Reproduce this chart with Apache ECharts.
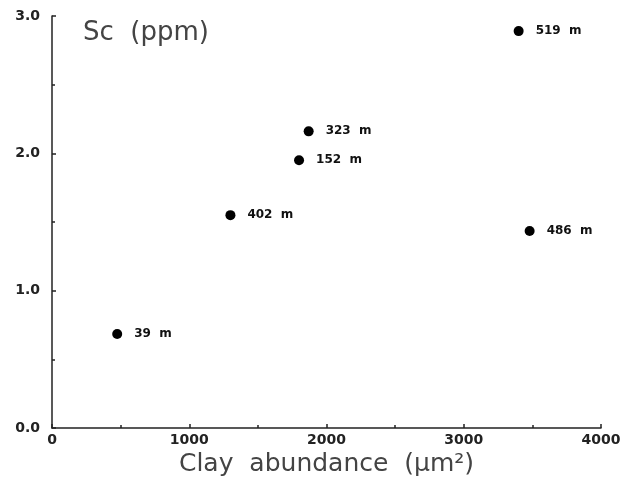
<!DOCTYPE html>
<html>
<head>
<meta charset="utf-8">
<script src="https://cdn.jsdelivr.net/npm/echarts@6/dist/echarts.min.js"></script>
<style>
  html, body { margin: 0; padding: 0; background: #fff; }
  #chart { width: 633px; height: 484px; }
</style>
</head>
<body>
<div id="chart"></div>
<script>
// sample depths and measured values
const depths = ["39", "402", "152", "323", "519", "486"];
const clay = [475, 1300, 1800, 1870, 3400, 3480];
const sc = [0.685, 1.55, 1.95, 2.16, 2.89, 1.435];

const chart = echarts.init(document.getElementById("chart"));

const points = depths.map(function (d, i) {
  return { value: [clay[i], sc[i]], name: d + "  m" };
});

const axisColor = "#222";

chart.setOption({
  animation: false,
  grid: {
    left: 52,
    right: 32,
    top: 16,
    bottom: 56
  },
  title: {
    text: "Sc  (ppm)",
    left: 78,
    top: 15,
    textStyle: {
      fontFamily: "DejaVu Sans",
      fontWeight: "normal",
      fontSize: 26,
      color: "#444"
    }
  },
  xAxis: {
    type: "value",
    min: 0,
    max: 4000,
    interval: 1000,
    name: "Clay  abundance  (μm²)",
    nameLocation: "middle",
    nameGap: 23,
    nameTextStyle: {
      fontFamily: "DejaVu Sans",
      fontSize: 25,
      color: "#444"
    },
    splitLine: { show: false },
    axisLine: { lineStyle: { color: axisColor, width: 1.5 } },
    axisTick: { inside: true, length: 4, lineStyle: { color: axisColor, width: 1.5 } },
    minorTick: { show: true, splitNumber: 2, length: 3, lineStyle: { color: axisColor, width: 1.5 } },
    axisLabel: {
      margin: 5,
      fontFamily: "DejaVu Sans",
      fontWeight: "bold",
      fontSize: 14,
      color: axisColor,
      formatter: function (v) { return String(v); }
    }
  },
  yAxis: {
    type: "value",
    min: 0,
    max: 3,
    interval: 1,
    splitLine: { show: false },
    axisLine: { show: true, lineStyle: { color: axisColor, width: 1.5 } },
    axisTick: { show: true, inside: true, length: 4, lineStyle: { color: axisColor, width: 1.5 } },
    minorTick: { show: true, splitNumber: 2, length: 3, lineStyle: { color: axisColor, width: 1.5 } },
    axisLabel: {
      margin: 12,
      fontFamily: "DejaVu Sans",
      fontWeight: "bold",
      fontSize: 14,
      color: axisColor,
      formatter: function (v) { return v.toFixed(1); }
    }
  },
  series: [
    {
      type: "scatter",
      symbol: "circle",
      symbolSize: 10,
      itemStyle: { color: "#000", opacity: 1 },
      data: points,
      label: {
        show: true,
        position: "right",
        distance: 12,
        formatter: "{b}",
        fontFamily: "DejaVu Sans",
        fontWeight: "bold",
        fontSize: 12,
        color: "#111"
      }
    }
  ]
});
</script>
</body>
</html>
